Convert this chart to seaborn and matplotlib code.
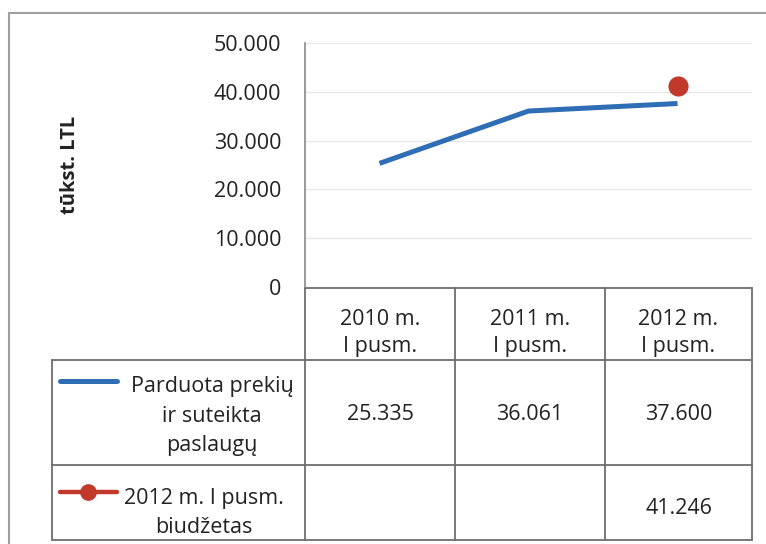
import matplotlib
matplotlib.use("Agg")
import matplotlib.pyplot as plt
import seaborn as sns
import pandas as pd
from matplotlib.ticker import FuncFormatter

# ---- data ----
categories = ["2010 m.\nI pusm.", "2011 m.\nI pusm.", "2012 m.\nI pusm."]
sales = [25335, 36061, 37600]
budget = [None, None, 41246]
series_names = ["Parduota prekių\nir suteikta\npaslaugų", "2012 m. I pusm.\nbiudžetas"]
y_ticks = [0, 10000, 20000, 30000, 40000, 50000]
y_label = "tūkst. LTL"

sns.set_theme(style="white")
plt.rcParams['font.family'] = ['Open Sans', 'DejaVu Sans']

BLUE = "#2f6db5"
RED = "#c0392b"
GRID = "#e8e8e8"
LINE = "#8a8a8a"
TXT = "#222222"
FS = 15.5

W, H = 766, 544
fig = plt.figure(figsize=(W / 100, H / 100), dpi=100)

def fmt(v):
    return f"{int(v):,}".replace(",", ".")

# main plot axes (pixel geometry)
px_l, px_r, px_t, px_b = 305, 752, 43, 287
ax = fig.add_axes([px_l / W, 1 - px_b / H, (px_r - px_l) / W, (px_b - px_t) / H])

df = pd.DataFrame({"x": list(range(len(categories))), "sales": sales,
                   "budget": [b if b is not None else float("nan") for b in budget]})
sns.lineplot(data=df, x="x", y="sales", ax=ax, color=BLUE, linewidth=3.6,
             solid_capstyle="butt", legend=False)
sns.scatterplot(data=df.dropna(subset=["budget"]), x="x", y="budget", ax=ax,
                color=RED, s=210, edgecolor=RED, linewidth=0, legend=False, zorder=5)

ax.set_xlim(-0.5, len(categories) - 0.5)
ax.set_ylim(y_ticks[0], y_ticks[-1])
ax.set_yticks(y_ticks)
ax.yaxis.set_major_formatter(FuncFormatter(lambda v, p: fmt(v)))
ax.set_xticks([])
ax.set_xlabel("")
ax.set_ylabel("")
ax.tick_params(axis="y", labelsize=FS, colors=TXT, length=0, pad=17)
ax.yaxis.grid(True, color=GRID, linewidth=1.0)
for s in ["top", "right"]:
    ax.spines[s].set_visible(False)
ax.spines["left"].set_color(LINE)
ax.spines["left"].set_linewidth(1.2)
ax.spines["bottom"].set_visible(False)

# overlay axes for frame, label and data table
ov = fig.add_axes([0, 0, 1, 1], zorder=-1)
ov.set_xlim(0, W)
ov.set_ylim(H, 0)
ov.axis("off")
ov.patch.set_alpha(0)

# outer frame
ov.plot([9, 9], [13, H], color="#a0a0a0", lw=1.5)
ov.plot([9, W], [13, 13], color="#a0a0a0", lw=1.5)

ov.text(70, 165, y_label, rotation=90, ha="center", va="center",
        fontsize=14.5, fontweight="bold", color=TXT)

# table geometry
col_x = [305, 455, 605, 752]
row_y = [288, 360, 465, 540]
left_x = 52
tc = "#6e6e6e"
ov.plot([col_x[0], col_x[-1]], [row_y[0], row_y[0]], color=tc, lw=1.3)
for y in row_y[1:]:
    ov.plot([left_x, col_x[-1]], [y, y], color=tc, lw=1.3)
for x in col_x:
    ov.plot([x, x], [row_y[0], row_y[-1]], color=tc, lw=1.3)
ov.plot([left_x, left_x], [row_y[1], row_y[-1]], color=tc, lw=1.3)

centers = [(col_x[i] + col_x[i + 1]) / 2 for i in range(len(categories))]
for cx, lab in zip(centers, categories):
    ov.text(cx, 333, lab, ha="center", va="center",
            fontsize=FS, color=TXT, linespacing=1.42)

# row 1
ov.plot([60, 117], [381, 381], color=BLUE, lw=3.6, solid_capstyle="round")
ov.text(212, 416, series_names[0], ha="center", va="center", fontsize=FS,
        color=TXT, linespacing=1.52)
for cx, v in zip(centers, sales):
    ov.text(cx, 415, fmt(v), ha="center", va="center", fontsize=FS, color=TXT)

# row 2
ov.plot([60, 117], [492, 492], color=RED, lw=3.2, solid_capstyle="round")
ov.plot([88], [492], marker="o", color=RED, markersize=11)
ov.text(204, 513, series_names[1], ha="center", va="center", fontsize=FS,
        color=TXT, linespacing=1.45)
for cx, v in zip(centers, budget):
    if v is not None:
        ov.text(cx, 509, fmt(v), ha="center", va="center", fontsize=FS, color=TXT)

fig.savefig("out.png", dpi=100, facecolor="white")
